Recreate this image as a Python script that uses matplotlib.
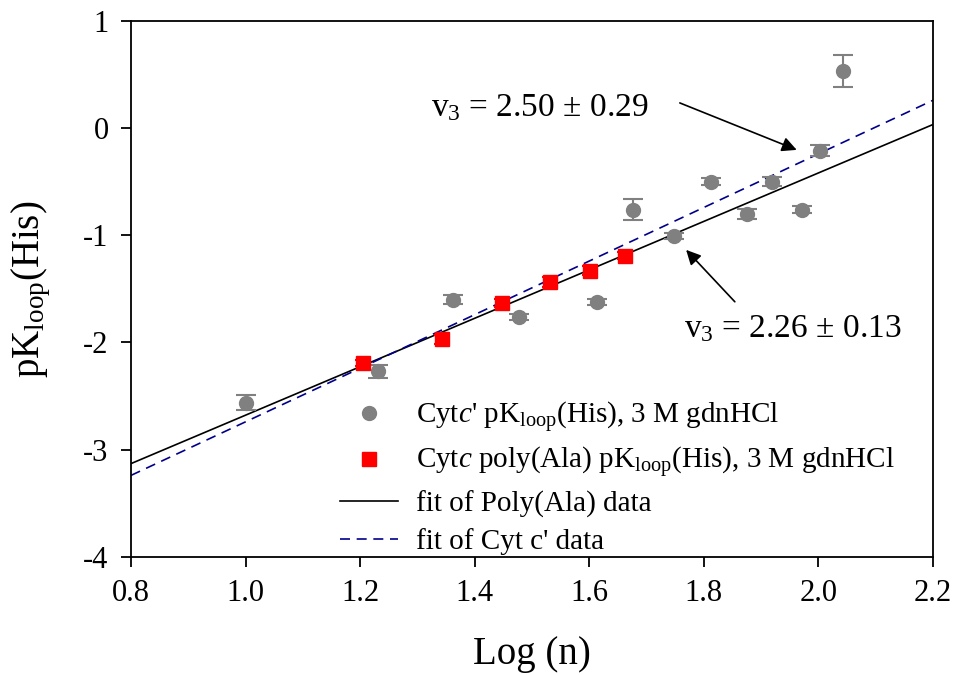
import numpy as np
import matplotlib
matplotlib.use('Agg')
import matplotlib.pyplot as plt
from matplotlib.lines import Line2D

plt.rcParams['font.family'] = ['Liberation Serif', 'DejaVu Serif']
plt.rcParams['mathtext.fontset'] = 'custom'
plt.rcParams['mathtext.rm'] = 'Liberation Serif'
plt.rcParams['mathtext.it'] = 'Liberation Serif:italic'

# Cyt c' data (grey circles)
cytc_x = [1.000, 1.231, 1.362, 1.477, 1.613, 1.677, 1.748, 1.812, 1.875, 1.919, 1.971, 2.002, 2.043]
cytc_y = [-2.56, -2.27, -1.60, -1.76, -1.62, -0.76, -1.005, -0.50, -0.80, -0.50, -0.76, -0.21, 0.53]
cytc_err = [0.07, 0.06, 0.04, 0.03, 0.03, 0.10, 0.03, 0.03, 0.05, 0.04, 0.03, 0.05, 0.15]

# Cyt c poly(Ala) data (red squares)
ala_x = [1.205, 1.343, 1.447, 1.531, 1.601, 1.662]
ala_y = [-2.19, -1.97, -1.63, -1.435, -1.33, -1.19]
ala_err = [0.03, 0.04, 0.04, 0.05, 0.04, 0.03]

# linear fits: slope, intercept
ala_fit = (2.26, -4.938)
cytc_fit = (2.50, -5.24)
fit_x = np.array([0.8, 2.2])

lab_cytc = "Cyt$\\it{c}$' pK$_{\\rm loop}$(His), 3 M gdnHCl"
lab_ala = 'Cyt$\\it{c}$ poly(Ala) pK$_{\\rm loop}$(His), 3 M gdnHCl'
lab_fit_ala = 'fit of Poly(Ala) data'
lab_fit_cytc = "fit of Cyt c' data"

fig = plt.figure(figsize=(9.56, 6.75), dpi=100)
ax = fig.add_axes([0.137, 0.175, 0.839, 0.794])

ax.plot(fit_x, ala_fit[0] * fit_x + ala_fit[1], color='black', lw=1.2, zorder=2)
ax.plot(fit_x, cytc_fit[0] * fit_x + cytc_fit[1], color='#00008b', lw=1.2,
        ls=(0, (6, 4)), zorder=2)

ax.errorbar(cytc_x, cytc_y, yerr=cytc_err, fmt='o', color='#808080', ms=10,
            ecolor='#808080', elinewidth=1.5, capsize=7, capthick=1.5, zorder=3)
ax.errorbar(ala_x, ala_y, yerr=ala_err, fmt='s', color='red', ms=10,
            ecolor='red', elinewidth=1.5, capsize=6, capthick=1.5, zorder=4)

ax.set_xlim(0.8, 2.2)
ax.set_ylim(-4, 1)
ax.set_xticks(np.arange(0.8, 2.21, 0.2))
ax.set_xticklabels(['0.8', '1.0', '1.2', '1.4', '1.6', '1.8', '2.0', '2.2'])
ax.set_yticks([-4, -3, -2, -1, 0, 1])
ax.set_yticklabels(['-4', '-3', '-2', '-1', '0', '1'])
ax.tick_params(direction='out', length=7, width=1.3, labelsize=22, pad=9)
for s in ax.spines.values():
    s.set_linewidth(1.3)

ax.set_xlabel('Log (n)', fontsize=28, labelpad=20)
ax.set_ylabel('pK$_{\\rm loop}$(His)', fontsize=28, labelpad=22)

# annotations
ax.text(1.514, 0.19, 'v$_3$ = 2.50 ± 0.29', fontsize=24, ha='center', va='center')
ax.annotate('', xy=(1.962, -0.203), xytext=(1.758, 0.235),
            arrowprops=dict(arrowstyle='-|>', color='black', lw=1.2,
                            mutation_scale=22, shrinkA=0, shrinkB=0))
ax.text(1.955, -1.87, 'v$_3$ = 2.26 ± 0.13', fontsize=24, ha='center', va='center')
ax.annotate('', xy=(1.769, -1.136), xytext=(1.854, -1.62),
            arrowprops=dict(arrowstyle='-|>', color='black', lw=1.2,
                            mutation_scale=22, shrinkA=0, shrinkB=0))

handles = [
    Line2D([], [], ls='none', marker='o', color='#808080', ms=10),
    Line2D([], [], ls='none', marker='s', color='red', ms=10),
    Line2D([], [], color='black', lw=1.2),
    Line2D([], [], color='#00008b', lw=1.2, ls=(0, (6, 4))),
]
ax.legend(handles, [lab_cytc, lab_ala, lab_fit_ala, lab_fit_cytc], loc='upper left',
          bbox_to_anchor=(0.228, 0.342), frameon=False, fontsize=21,
          handlelength=2.0, handletextpad=0.6, labelspacing=0.35)

fig.savefig('out.png', dpi=100)
